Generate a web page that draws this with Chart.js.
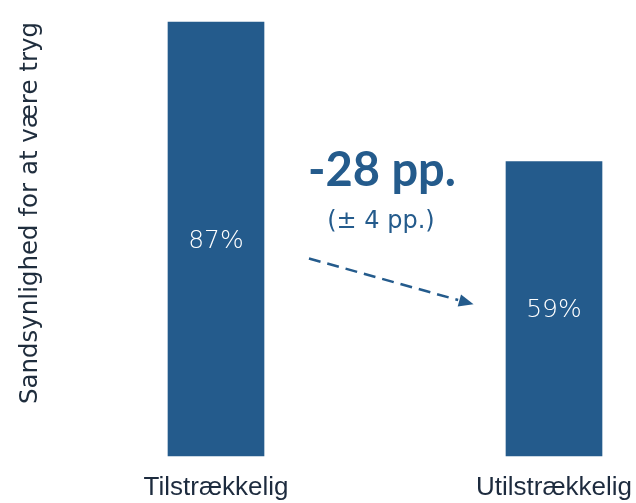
<!DOCTYPE html>
<html>
<head>
<meta charset="utf-8">
<script src="https://cdn.jsdelivr.net/npm/chart.js@4"></script>
<style>
  html, body { margin: 0; padding: 0; background: #fff; overflow: hidden; }
  #wrap { width: 636px; height: 503px; }
</style>
</head>
<body>
<div id="wrap"><canvas id="myChart"></canvas></div>
<script>
// data
const categories = ['Tilstrækkelig', 'Utilstrækkelig'];
const values = [87, 59];
const diffLabel = '-28 pp.';
const ciLabel = '(± 4 pp.)';
// arrow ends and text anchors in data space (category index, percent)
const arrowFrom = [0.275, 39.6];
const arrowTo = [0.762, 30.4];
const diffPos = [0.491, 54.2];
const ciPos = [0.488, 45.8];

const barColor = '#245b8c';

const overlay = {
    id: 'overlay',
    afterDatasetsDraw(chart) {
        const ctx = chart.ctx;
        const xs = chart.scales.x, ys = chart.scales.y;
        const px = p => [xs.getPixelForValue(p[0]), ys.getPixelForValue(p[1])];

        // value labels in the middle of each bar
        ctx.save();
        ctx.fillStyle = '#ffffff';
        ctx.font = '200 25px "DejaVu Sans"';
        ctx.textAlign = 'center';
        ctx.textBaseline = 'middle';
        chart.getDatasetMeta(0).data.forEach((bar, i) => {
            ctx.fillText(values[i] + '%', bar.x, (bar.y + bar.base) / 2 + 2);
        });

        // difference text
        ctx.textBaseline = 'alphabetic';
        ctx.fillStyle = barColor;
        ctx.font = 'bold 47px Lato';
        let p = px(diffPos);
        ctx.fillText(diffLabel, p[0], p[1]);
        ctx.font = '24px "DejaVu Sans"';
        p = px(ciPos);
        ctx.fillText(ciLabel, p[0], p[1]);

        // dashed arrow
        const a = px(arrowFrom), b = px(arrowTo);
        const ang = Math.atan2(b[1] - a[1], b[0] - a[0]);
        const head = 16;
        const lineEnd = [b[0] - head * Math.cos(ang), b[1] - head * Math.sin(ang)];
        ctx.strokeStyle = barColor;
        ctx.lineWidth = 2.5;
        ctx.setLineDash([12, 7]);
        ctx.beginPath();
        ctx.moveTo(a[0], a[1]);
        ctx.lineTo(lineEnd[0], lineEnd[1]);
        ctx.stroke();
        ctx.setLineDash([]);
        ctx.beginPath();
        ctx.moveTo(b[0], b[1]);
        ctx.lineTo(b[0] - head * Math.cos(ang - 0.4), b[1] - head * Math.sin(ang - 0.4));
        ctx.lineTo(b[0] - head * Math.cos(ang + 0.4), b[1] - head * Math.sin(ang + 0.4));
        ctx.closePath();
        ctx.fill();
        ctx.restore();
    }
};

const ctx = document.getElementById('myChart').getContext('2d');
const myChart = new Chart(ctx, {
    type: 'bar',
    data: {
        labels: categories,
        datasets: [{
            data: values,
            backgroundColor: barColor,
            barThickness: 96,
            clip: false
        }]
    },
    options: {
        responsive: true,
        maintainAspectRatio: false,
        animation: false,
        layout: { padding: { top: 22, right: 82, bottom: 0, left: 0 } },
        plugins: {
            legend: { display: false },
            tooltip: { enabled: false }
        },
        scales: {
            x: {
                offset: false,
                grid: { display: false, drawTicks: false },
                border: { display: false },
                afterFit(scale) {
                    scale.height = 47;
                    scale.paddingLeft = 0;
                    scale.paddingRight = 0;
                },
                ticks: {
                    padding: 16,
                    color: '#1d2b3e',
                    font: { family: '"Liberation Sans"', size: 26 }
                }
            },
            y: {
                min: 0,
                max: 87,
                grid: { display: false, drawTicks: false },
                border: { display: false },
                ticks: { display: false },
                afterFit(scale) { scale.width = 216; },
                title: {
                    display: true,
                    text: 'Sandsynlighed for at være tryg',
                    align: 'end',
                    color: '#1f2d3d',
                    padding: { top: 16, bottom: 0 },
                    font: { family: '"DejaVu Sans"', size: 24.5 }
                }
            }
        }
    },
    plugins: [overlay]
});
</script>
</body>
</html>
